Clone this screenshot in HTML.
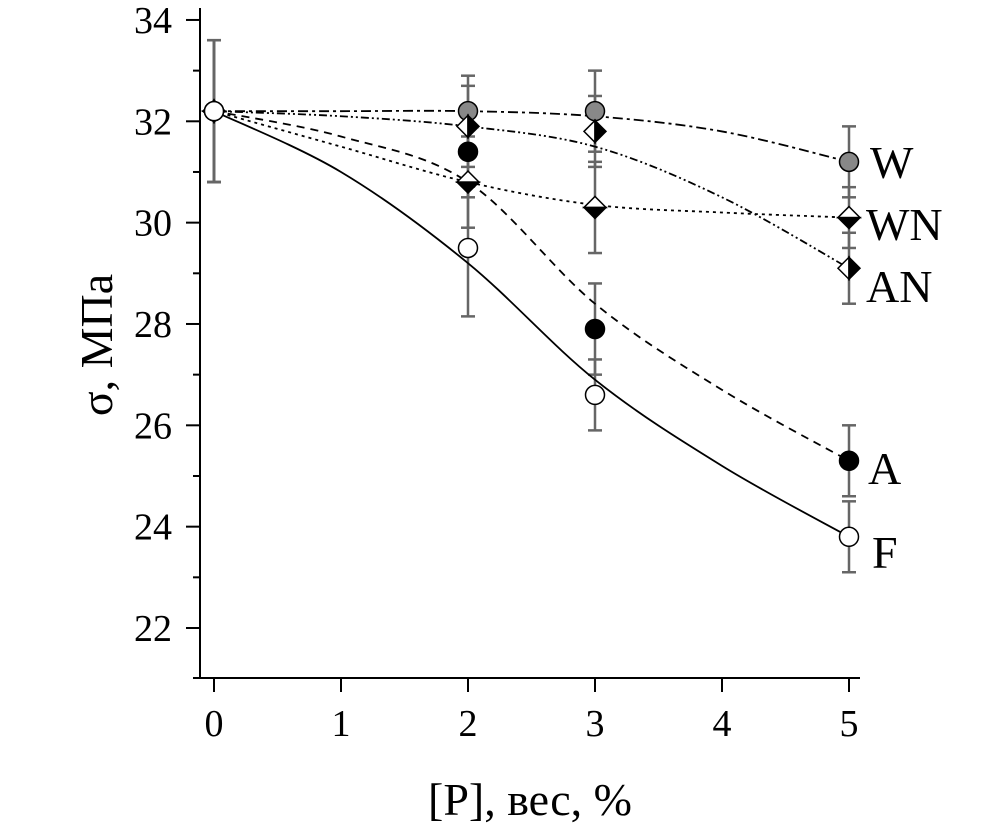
<!DOCTYPE html>
<html><head><meta charset="utf-8"><style>
body{margin:0;background:#fff}
svg text{font-family:"Liberation Serif",serif;fill:#000}
</style></head><body>
<svg id="chart" width="1004" height="827" xmlns="http://www.w3.org/2000/svg"></svg>
<script>
const xs=[0,2,3,5];
const serW=[32.2,32.2,32.2,31.2];
const errW=[1.4,0.7,0.8,0.7];
const serAN=[32.2,31.9,31.8,29.1];
const errAN=[1.4,0.8,0.7,0.7];
const serWN=[32.2,30.8,30.3,30.1];
const errWN=[1.4,0.9,0.9,0.6];
const serA=[32.2,31.4,27.9,25.3];
const errA=[1.4,0.9,0.9,0.7];
const serF=[32.2,29.5,26.6,23.8];
const errF=[1.4,1.35,0.7,0.7];
// fitted trend curves sampled at fitX
const fitX=[0,1,2,3,4,5];
const fitW=[32.2,32.2,32.2,32.1,31.8,31.2];
const fitAN=[32.2,32.1,31.9,31.5,30.5,29.1];
const fitWN=[32.2,31.5,30.8,30.35,30.2,30.1];
const fitA=[32.2,31.7,30.8,28.4,26.7,25.3];
const fitF=[32.2,31.0,29.2,26.9,25.2,23.8];
const xTicks=[0,1,2,3,4,5];
const yTicks=[22,24,26,28,30,32,34];
const labels=["W","WN","AN","A","F"];

const NS="http://www.w3.org/2000/svg";
const svg=document.getElementById('chart');
const X=v=>214+v*127;
const Y=v=>628-(v-22)*50.67;
function el(t,a,p){const e=document.createElementNS(NS,t);for(const k in a)e.setAttribute(k,a[k]);(p||svg).appendChild(e);return e;}

let ax=el('line',{x1:200,y1:8,x2:200,y2:678,stroke:'#000','stroke-width':2});


let bx=el('line',{x1:193,y1:678,x2:860,y2:678,stroke:'#000','stroke-width':2});


xTicks.forEach(t=>{
  el('line',{x1:X(t),y1:678,x2:X(t),y2:692,stroke:'#000','stroke-width':2});
  const tx=el('text',{x:X(t),y:736,'font-size':38,'text-anchor':'middle'});tx.textContent=t;
  
  
});
for(let v=22;v<=34;v++){
  const major=yTicks.includes(v);
  el('line',{x1:major?186:193,y1:Y(v),x2:200,y2:Y(v),stroke:'#000','stroke-width':2});
}
yTicks.forEach(t=>{
  const tx=el('text',{x:172,y:Y(t)+13,'font-size':38,'text-anchor':'end'});tx.textContent=t;
  
  
});
const yt=el('text',{x:0,y:0,'font-size':46,'text-anchor':'middle',transform:'translate(112,345) rotate(-90)'});yt.textContent='σ, МПа';


const xt=el('text',{x:530,y:815,'font-size':46,'text-anchor':'middle'});xt.textContent='[P], вес, %';



function smooth(xv,vals){
  const pts=xv.map((x,i)=>[X(x),Y(vals[i])]);
  let d='M'+pts[0][0]+','+pts[0][1];
  for(let i=0;i<pts.length-1;i++){
    const p0=pts[Math.max(0,i-1)],p1=pts[i],p2=pts[i+1],p3=pts[Math.min(pts.length-1,i+2)];
    const c1=[p1[0]+(p2[0]-p0[0])/6,p1[1]+(p2[1]-p0[1])/6];
    const c2=[p2[0]-(p3[0]-p1[0])/6,p2[1]-(p3[1]-p1[1])/6];
    d+=` C${c1[0]},${c1[1]} ${c2[0]},${c2[1]} ${p2[0]},${p2[1]}`;
  }
  return d;
}
const series=[
 {n:'W',v:serW,e:errW,f:fitW,dash:'10,4,3,4',m:'circ',fill:'#888'},
 {n:'AN',v:serAN,e:errAN,f:fitAN,dash:'8,3,2,3,2,3',m:'dAN'},
 {n:'WN',v:serWN,e:errWN,f:fitWN,dash:'3,4',m:'dWN'},
 {n:'A',v:serA,e:errA,f:fitA,dash:'8,6',m:'circ',fill:'#000'},
 {n:'F',v:serF,e:errF,f:fitF,dash:'',m:'circ',fill:'#fff'}
];
series.forEach(s=>{
  const g=el('g',{});
  
  
  xs.forEach((x,i)=>{
    const cx=X(x),t=Y(s.v[i]+s.e[i]),b=Y(s.v[i]-s.e[i]);
    el('line',{x1:cx,y1:t,x2:cx,y2:b,stroke:'#666','stroke-width':2.5},g);
    el('line',{x1:cx-7,y1:t,x2:cx+7,y2:t,stroke:'#666','stroke-width':2.5},g);
    el('line',{x1:cx-7,y1:b,x2:cx+7,y2:b,stroke:'#666','stroke-width':2.5},g);
  });
  const p=el('path',{d:smooth(fitX,s.f),fill:'none',stroke:'#000','stroke-width':1.8,'stroke-dasharray':s.dash},g);
  
  
});
series.forEach(s=>{
  xs.forEach((x,i)=>{
    const cx=X(x),cy=Y(s.v[i]);let m;
    if(s.m==='circ'){m=el('circle',{cx,cy,r:9.5,fill:s.fill,stroke:'#000','stroke-width':1.5});}
    else{
      m=el('g',{});
      const r=11;
      if(s.m==='dAN'){
        el('polygon',{points:`${cx},${cy-r} ${cx-r},${cy} ${cx},${cy+r}`,fill:'#fff',stroke:'#000','stroke-width':1.5},m);
        el('polygon',{points:`${cx},${cy-r} ${cx+r},${cy} ${cx},${cy+r}`,fill:'#000',stroke:'#000','stroke-width':1.5},m);
      }else{
        el('polygon',{points:`${cx-r},${cy} ${cx},${cy-r} ${cx+r},${cy}`,fill:'#fff',stroke:'#000','stroke-width':1.5},m);
        el('polygon',{points:`${cx-r},${cy} ${cx},${cy+r} ${cx+r},${cy}`,fill:'#000',stroke:'#000','stroke-width':1.5},m);
      }
    }
    
    
  });
});
const lp=[[870,178,'W'],[866,240,'WN'],[866,302,'AN'],[868,484,'A'],[872,568,'F']];
lp.forEach((l,i)=>{
  const t=el('text',{x:l[0],y:l[1],'font-size':46});t.textContent=labels[i];
  
  
});
</script>
</body></html>
